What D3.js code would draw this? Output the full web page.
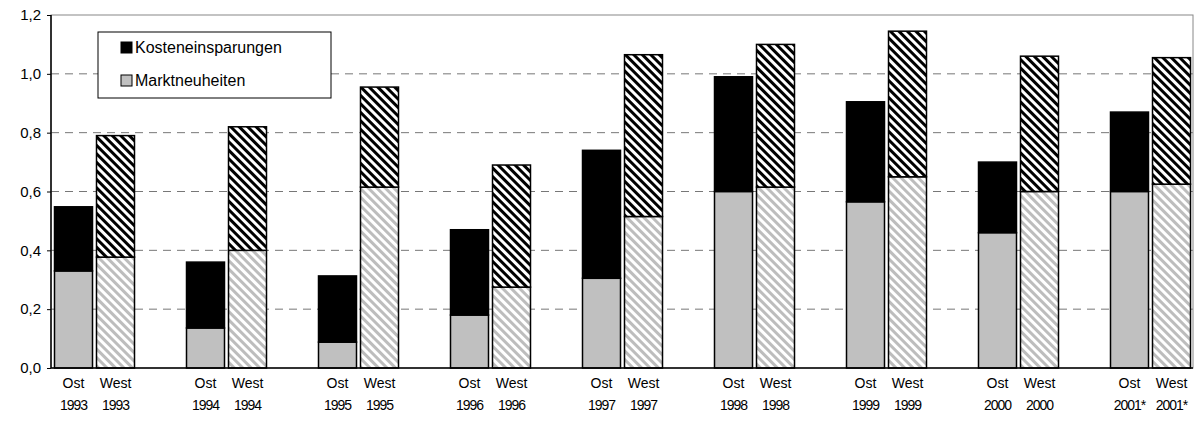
<!DOCTYPE html><html><head><meta charset="utf-8">
<script src="https://cdn.jsdelivr.net/npm/d3@7"></script>
<style>body{margin:0;background:#fff}text{font-family:"Liberation Sans",Arial,sans-serif}</style></head><body>
<svg id="c" width="1204" height="421"></svg>
<script>
const years=["1993","1994","1995","1996","1997","1998","1999","2000","2001*"];
const ostMarkt=[0.33,0.136,0.088,0.18,0.305,0.60,0.565,0.46,0.60];
const ostTotal=[0.548,0.36,0.313,0.47,0.74,0.99,0.905,0.70,0.87];
const westMarkt=[0.377,0.40,0.615,0.275,0.515,0.615,0.65,0.60,0.625];
const westTotal=[0.79,0.82,0.955,0.69,1.065,1.10,1.145,1.06,1.055];
const yTicks=[0,0.2,0.4,0.6,0.8,1.0,1.2];
const svg=d3.select("#c");
const L=51,R=1193,T=15,B=368;
const defs=svg.append("defs");
function pat(id,bg,fg){const p=defs.append("pattern").attr("id",id).attr("patternUnits","userSpaceOnUse").attr("width",6).attr("height",6).attr("patternTransform","rotate(-45)");
p.append("rect").attr("width",6).attr("height",6).attr("fill",bg);
p.append("rect").attr("width",3).attr("height",6).attr("fill",fg);}
pat("pk","#fff","#000");pat("pm","#fff","#bdbdbd");
const y=d3.scaleLinear().domain([0,1.2]).range([B,T]);
const x=d3.scaleBand().domain(years).range([28.5,1216.5]);
const bw=38,gap=4;
svg.append("g").selectAll("line").data(yTicks.filter(d=>d>0&&d<1.2)).join("line")
 .attr("x1",L).attr("x2",R).attr("y1",d=>y(d)).attr("y2",d=>y(d)).attr("stroke","#777").attr("stroke-dasharray","8,6");
svg.append("rect").attr("x",L).attr("y",T).attr("width",R-L).attr("height",B-T).attr("fill","none").attr("stroke","#888");
const g=svg.append("g");
years.forEach((yr,i)=>{
 const c=x(yr)+x.bandwidth()/2;
 const xo=c-gap/2-bw, xw=c+gap/2;
 const bars=[[xo,0,ostMarkt[i],"#c0c0c0"],[xo,ostMarkt[i],ostTotal[i],"#000"],[xw,0,westMarkt[i],"url(#pm)"],[xw,westMarkt[i],westTotal[i],"url(#pk)"]];
 bars.forEach(b=>g.append("rect").attr("x",b[0]).attr("y",y(b[2])).attr("width",bw).attr("height",y(b[1])-y(b[2])).attr("fill",b[3]).attr("stroke","#000").attr("stroke-width",1.5));
 [["Ost",xo],["West",xw]].forEach(([n,xx])=>{
  const t=svg.append("text").attr("text-anchor","middle").attr("font-size",14);
  t.append("tspan").attr("x",xx+bw/2).attr("y",388).text(n);
  t.append("tspan").attr("x",xx+bw/2).attr("y",410).attr("font-size",14).attr("letter-spacing",-1).text(yr);
 });
});
svg.append("line").attr("x1",L).attr("x2",R).attr("y1",B).attr("y2",B).attr("stroke","#000").attr("stroke-width",1.5);
svg.append("line").attr("x1",L).attr("x2",L).attr("y1",T).attr("y2",B).attr("stroke","#000").attr("stroke-width",1.5);
const ax=svg.append("g").attr("transform",`translate(${L},0)`).call(d3.axisLeft(y).tickValues(yTicks).tickSize(4).tickFormat(d=>d3.format(".1f")(d).replace(".",",")));
ax.select(".domain").remove();ax.selectAll("text").attr("font-size",15).attr("fill","#000").attr("font-family","Liberation Sans, Arial").attr("dx",-3);
const lg=svg.append("g");
lg.append("rect").attr("x",98).attr("y",32).attr("width",233).attr("height",66).attr("fill","#fff").attr("stroke","#000");
[["Kosteneinsparungen","#000",48],["Marktneuheiten","#c0c0c0",81]].forEach(([t,c,yy])=>{
 lg.append("rect").attr("x",121).attr("y",yy-6).attr("width",11).attr("height",11).attr("fill",c).attr("stroke","#000");
 lg.append("text").attr("x",135).attr("y",yy+5).attr("font-size",16).text(t);
});
</script></body></html>
